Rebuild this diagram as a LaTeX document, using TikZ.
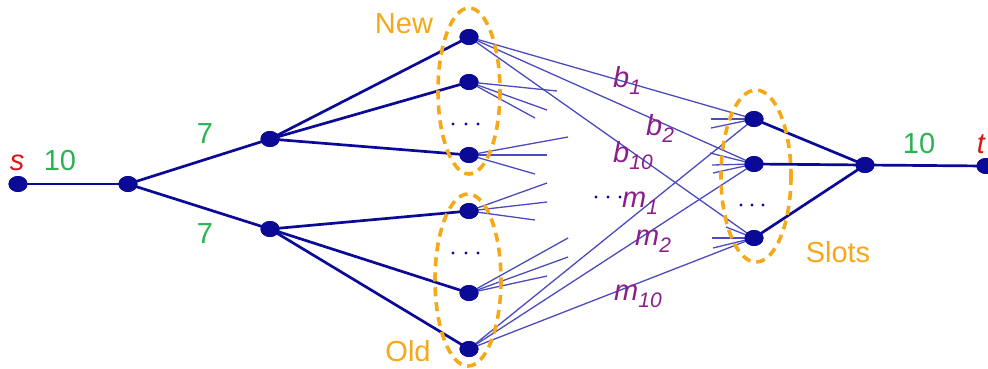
\documentclass[tikz,border=0pt]{standalone}
\usepackage{fontspec}
\setmainfont{Liberation Sans}
\usetikzlibrary{shapes.geometric}

\definecolor{navy}{RGB}{10,10,150}
\definecolor{thinblue}{RGB}{75,75,190}
\definecolor{ringorange}{RGB}{247,168,25}
\definecolor{capgreen}{RGB}{40,180,80}
\definecolor{termred}{RGB}{220,20,20}
\definecolor{labpurple}{RGB}{140,30,140}

% italic label with a lowered subscript
\newcommand\sublab[2]{\textit{#1}\raisebox{-7pt}{\fontsize{21}{21}\selectfont\textit{#2}}}

\tikzset{
  vtx/.style={ellipse, fill=navy, inner sep=0pt, minimum width=19pt, minimum height=16pt},
  flow/.style={draw=navy, line width=2.7pt},
  pair/.style={draw=thinblue, line width=1.3pt},
  ring/.style={draw=ringorange, line width=3.6pt, dash pattern=on 9pt off 6pt},
  bigtxt/.style={font=\fontsize{29}{29}\selectfont, inner sep=0pt, anchor=base},
  captxt/.style={bigtxt, text=capgreen},
  termtxt/.style={bigtxt, text=termred, font=\fontsize{29}{29}\selectfont\itshape},
  grptxt/.style={bigtxt, text=ringorange},
  labtxt/.style={bigtxt, anchor=base west, text=labpurple},
  dotmark/.style={circle, fill=navy, inner sep=0pt, minimum size=3.4pt}
}

\begin{document}
\begin{tikzpicture}[x=1pt, y=-1pt]
\useasboundingbox (0,0) rectangle (988,368);

% vertices
\node[vtx] (s)  at (18,184) {};
\node[vtx] (a)  at (128,184) {};
\node[vtx] (b1) at (270,139) {};
\node[vtx] (b2) at (270,229) {};
\node[vtx] (n1) at (469,37) {};
\node[vtx] (n2) at (469,82) {};
\node[vtx] (n3) at (469,155) {};
\node[vtx] (o1) at (469,211) {};
\node[vtx] (o2) at (469,293) {};
\node[vtx] (o3) at (469,349) {};
\node[vtx] (p1) at (754,119) {};
\node[vtx] (p2) at (754,164) {};
\node[vtx] (p3) at (754,238) {};
\node[vtx] (c)  at (865,165) {};
\node[vtx] (t)  at (986,166) {};

% loose ends of the fan-out edges
\coordinate (n2a) at (557,91);
\coordinate (n2b) at (547,110);
\coordinate (n2c) at (535,118);
\coordinate (n3a) at (568,137);
\coordinate (n3b) at (547,155);
\coordinate (n3c) at (535,174);
\coordinate (o1a) at (547,183);
\coordinate (o1b) at (547,202);
\coordinate (o1c) at (535,220);
\coordinate (o2a) at (568,238);
\coordinate (o2b) at (568,257);
\coordinate (o2c) at (547,276);
\coordinate (p1a) at (711,119);
\coordinate (p1b) at (711,128);
\coordinate (p2a) at (710,153);
\coordinate (p2b) at (712,165);
\coordinate (p2c) at (713,173);
\coordinate (p3a) at (726,227);
\coordinate (p3b) at (712,238);
\coordinate (p3c) at (713,248);

% thin edges
\foreach \u/\v in {n1/p1, n1/p2, n1/p3, o3/p1, o3/p2, o3/p3,
  n2/n2a, n2/n2b, n2/n2c, n3/n3a, n3/n3b, n3/n3c,
  o1/o1a, o1/o1b, o1/o1c, o2/o2a, o2/o2b, o2/o2c,
  p1a/p1, p1b/p1, p2a/p2, p2b/p2, p2c/p2, p3a/p3, p3b/p3, p3c/p3}
  \draw[pair] (\u.center) -- (\v.center);

% thick edges
\foreach \u/\v in {s/a, a/b1, a/b2, b1/n1, b1/n2, b1/n3, b2/o1, b2/o2, b2/o3,
  p1/c, p2/c, p3/c, c/t}
  \draw[flow] (\u.center) -- (\v.center);

% groups
\draw[ring] (469,91) ellipse [x radius=31, y radius=83];
\draw[ring] (468,280) ellipse [x radius=33, y radius=86];
\draw[ring] (756,176) ellipse [x radius=35, y radius=86];

% redraw vertices on top
\foreach \v in {s,a,b1,b2,n1,n2,n3,o1,o2,o3,p1,p2,p3,c,t}
  \fill[navy] (\v.center) ellipse [x radius=9.5, y radius=8];

% ellipsis dots
\foreach \x/\y in {453/124, 466/124, 478/124,
                   453/253, 466/253, 478/253,
                   741/205, 752/205, 763/205,
                   596/197, 608/197, 620/197}
  \node[dotmark] at (\x,\y) {};

% texts
\node[termtxt] (sl) at (17,170) {s};
\node[termtxt] (tl) at (981,153) {t};
\node[captxt] (c1) at (60,170) {10};
\node[captxt] (c2) at (205,143) {7};
\node[captxt] (c3) at (205,243) {7};
\node[captxt] (c4) at (919,153) {10};
\node[grptxt] (gn) at (404,33) {New};
\node[grptxt] (go) at (408,361) {Old};
\node[grptxt] (gs) at (838,262) {Slots};

\node[labtxt] (lb1) at (613,87) {\sublab{b}{1}};
\node[labtxt] (lb2) at (646,135) {\sublab{b}{2}};
\node[labtxt] (lb3) at (613,162) {\sublab{b}{10}};
\node[labtxt] (lm1) at (622,207) {\sublab{m}{1}};
\node[labtxt] (lm2) at (635,245) {\sublab{m}{2}};
\node[labtxt] (lm3) at (614,300) {\sublab{m}{10}};
\end{tikzpicture}
\end{document}
